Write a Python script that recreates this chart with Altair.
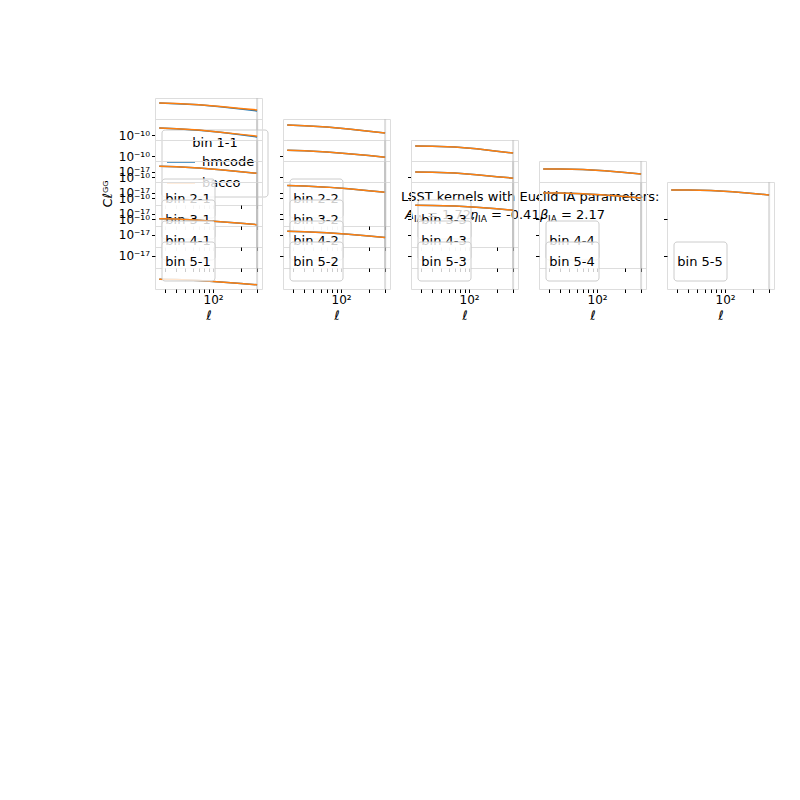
import pandas as pd
import altair as alt

# multipoles sampled on each curve
ell = [26, 40, 70, 120, 200, 300]

# log10 C_ell for each bin pair (bacco)
bacco = {
    "1-1": [-3.77, -3.88, -4.10, -4.44, -4.81, -5.10],
    "2-1": [-4.55, -4.67, -4.94, -5.33, -5.76, -6.10],
    "2-2": [-3.97, -4.09, -4.35, -4.74, -5.16, -5.50],
    "3-1": [-7.86, -7.97, -8.20, -8.53, -8.91, -9.20],
    "3-2": [-4.75, -4.86, -5.09, -5.43, -5.80, -6.10],
    "3-3": [-3.97, -3.99, -4.15, -4.50, -4.95, -5.30],
    "4-1": [-13.90, -13.99, -14.19, -14.48, -14.80, -15.05],
    "4-2": [-7.50, -7.60, -7.83, -8.15, -8.51, -8.80],
    "4-3": [-4.94, -4.96, -5.12, -5.45, -5.82, -6.10],
    "4-4": [-4.36, -4.36, -4.46, -4.70, -5.00, -5.30],
    "5-1": [-21.50, -21.59, -21.78, -22.05, -22.36, -22.60],
    "5-2": [-12.30, -12.36, -12.55, -12.85, -13.20, -13.50],
    "5-3": [-7.30, -7.31, -7.42, -7.65, -7.97, -8.25],
    "5-4": [-4.94, -4.94, -5.04, -5.28, -5.60, -5.90],
    "5-5": [-4.36, -4.35, -4.45, -4.70, -5.02, -5.30],
}
# hmcode differs visibly only in a couple of bins
hmcode = dict(bacco)
hmcode["1-1"] = [-3.77, -3.89, -4.12, -4.48, -4.90, -5.30]
hmcode["2-1"] = [-4.55, -4.67, -4.95, -5.36, -5.85, -6.25]

ell_cut = 300

rows = []
for b in bacco:
    for e, h, v in zip(ell, hmcode[b], bacco[b]):
        rows.append({"bin": b, "ell": e, "model": "hmcode", "cl": 10 ** h})
        rows.append({"bin": b, "ell": e, "model": "bacco", "cl": 10 ** v})
df = pd.DataFrame(rows)
one = pd.DataFrame({"a": [0]})

W = H = 107
FONT = "DejaVu Sans"
xscale = alt.Scale(type="log", domain=[23.4, 339], nice=False)
yscale = alt.Scale(type="log", domain=[10 ** -23.4, 10 ** -2.8], nice=False)
xticks = [30, 40, 50, 60, 70, 80, 90, 100, 200, 300]


def t(s, x, y, **kw):
    kw.setdefault("fontSize", 13)
    kw.setdefault("align", "left")
    return alt.Chart(one).mark_text(text=s, font=FONT, color="black", **kw).encode(
        x=alt.value(x), y=alt.value(y))


def panel(i, j, nrows=5):
    b = f"{i}-{j}"
    bottom = i == nrows
    first = j == 1
    xax = alt.Axis(values=xticks, labelExpr="datum.value == 100 ? '10²' : ''",
                   title="ℓ" if bottom else None, labels=bottom, grid=False,
                   domain=False, tickSize=3.5, tickColor="black", labelFontSize=12,
                   titleFontStyle="italic", titleFontWeight="normal", titleFontSize=13,
                   labelFont=FONT, titleFont=FONT, labelColor="black")
    yax = alt.Axis(values=[1e-10, 1e-17],
                   labelExpr="datum.value < 1e-12 ? '10⁻¹⁷' : '10⁻¹⁰'",
                   labels=first, title="Cℓᴳᴳ" if (first and i == 3) else None,
                   grid=False, domain=False, tickSize=3.5, tickColor="black",
                   labelFontSize=12, labelFont=FONT, titleFont=FONT,
                   titleFontWeight="normal", titleFontSize=13, labelColor="black")
    base = alt.Chart(df).transform_filter(alt.datum.bin == b)
    lines = base.mark_line(strokeWidth=1.5, clip=True).encode(
        x=alt.X("ell:Q", scale=xscale, axis=xax),
        y=alt.Y("cl:Q", scale=yscale, axis=yax),
        color=alt.Color("model:N", scale=alt.Scale(domain=["hmcode", "bacco"],
                        range=["#1f77b4", "#ff7f0e"]), legend=None),
        order=alt.Order("ell:Q"),
        detail="model:N",
    )
    cut = alt.Chart(pd.DataFrame({"ell": [ell_cut]})).mark_rule(
        color="#bbbbbb", opacity=0.5, strokeWidth=2).encode(x=alt.X("ell:Q", scale=xscale))
    layers = [cut, lines]
    if b == "1-1":
        layers += [
            alt.Chart(one).mark_rect(fill="white", fillOpacity=0.8, stroke="#cccccc",
                                     cornerRadius=3, clip=False).encode(
                x=alt.value(7), x2=alt.value(113), y=alt.value(32), y2=alt.value(99)),
            t("bin 1-1", 60, 45, align="center"),
            alt.Chart(one).mark_rule(color="#1f77b4", strokeWidth=1.5).encode(
                x=alt.value(12), x2=alt.value(40), y=alt.value(64)),
            alt.Chart(one).mark_rule(color="#ff7f0e", strokeWidth=1.5).encode(
                x=alt.value(12), x2=alt.value(40), y=alt.value(85)),
            t("hmcode", 47, 64),
            t("bacco", 47, 85),
        ]
    else:
        layers += [
            alt.Chart(one).mark_rect(fill="white", fillOpacity=0.8, stroke="#cccccc",
                                     cornerRadius=3).encode(
                x=alt.value(7), x2=alt.value(60), y=alt.value(60), y2=alt.value(99)),
            t(f"bin {b}", 33, 80, align="center"),
        ]
    if b == "2-2":
        layers += [
            t("LSST kernels with Euclid IA parameters:", 118, 78),
            t("A", 122, 96, fontStyle="italic"),
            t("IA", 131, 100, fontSize=9),
            t("= 1.72,", 144, 96),
            t("η", 187, 96, fontStyle="italic"),
            t("IA", 195, 100, fontSize=9),
            t("= -0.41,", 208, 96),
            t("β", 257, 96, fontStyle="italic"),
            t("IA", 265, 100, fontSize=9),
            t("= 2.17", 278, 96),
        ]
    return alt.layer(*layers).properties(width=W, height=H)


chart = alt.vconcat(
    *[alt.hconcat(*[panel(i, j) for j in range(1, i + 1)], spacing=21, bounds="flush")
      for i in range(1, 6)],
    spacing=21, bounds="flush",
).properties(
    padding={"left": 92, "top": 88, "right": 10, "bottom": 10}
).configure_view(stroke="black", strokeWidth=1).configure(background="white")

chart.save("out.html", embed_options={"renderer": "svg", "actions": False})
